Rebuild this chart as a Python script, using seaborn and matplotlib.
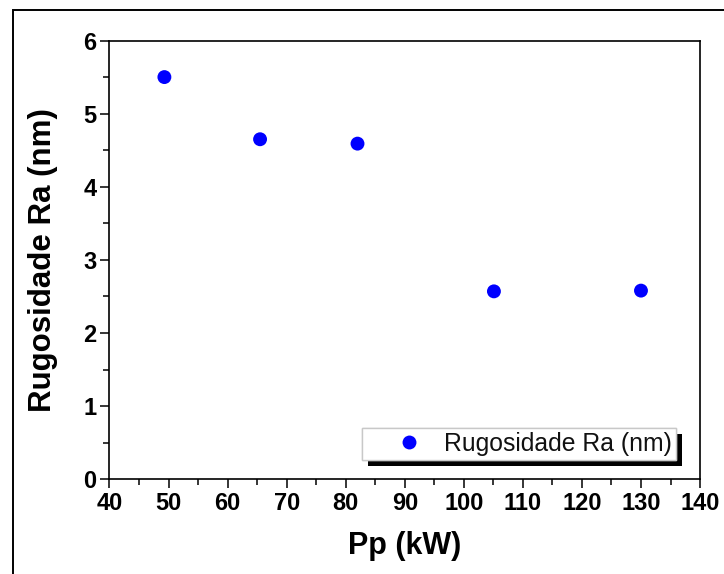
import matplotlib
matplotlib.use("Agg")
import matplotlib.pyplot as plt
import matplotlib.patheffects as pe
from matplotlib.patches import Rectangle
from matplotlib.ticker import MultipleLocator
from matplotlib import font_manager
import seaborn as sns
import pandas as pd

# Data
pp_kw = [49.3, 65.5, 82.0, 105.1, 130.0]
ra_nm = [5.50, 4.65, 4.59, 2.57, 2.58]
series_label = "Rugosidade Ra (nm)"
x_label = "Pp (kW)"
y_label = "Rugosidade Ra (nm)"

df = pd.DataFrame({"Pp": pp_kw, "Ra": ra_nm, "serie": [series_label] * len(pp_kw)})

sns.set_theme(style="white")
plt.rcParams["font.family"] = ["Liberation Sans", "DejaVu Sans"]
plt.rcParams["text.color"] = "black"
plt.rcParams["axes.labelcolor"] = "black"
plt.rcParams["xtick.color"] = "black"
plt.rcParams["ytick.color"] = "black"

names = {f.name for f in font_manager.fontManager.ttflist}
narrow = "Liberation Sans Narrow" if "Liberation Sans Narrow" in names else "Liberation Sans"

fig = plt.figure(figsize=(7.24, 5.74), dpi=100)
ax = fig.add_axes([0.1512, 0.165, 0.8157, 0.7644])

sns.scatterplot(data=df, x="Pp", y="Ra", hue="serie", palette={series_label: "#0000ff"},
                s=100, edgecolor="none", ax=ax, legend=True)

ax.set_xlim(40, 140)
ax.set_ylim(0, 6)
ax.xaxis.set_major_locator(MultipleLocator(10))
ax.xaxis.set_minor_locator(MultipleLocator(5))
ax.yaxis.set_major_locator(MultipleLocator(1))
ax.yaxis.set_minor_locator(MultipleLocator(0.5))

for sp in ax.spines.values():
    sp.set_color("black")
    sp.set_linewidth(1.2)

ax.tick_params(axis="both", which="major", direction="out", length=6.5, width=1.1,
               color="black", labelcolor="black", pad=3, top=False, right=False,
               left=True, bottom=True)
ax.tick_params(axis="both", which="minor", direction="out", length=4.3, width=1.1,
               color="black", top=False, right=False, left=True, bottom=True)
for lab in ax.get_xticklabels() + ax.get_yticklabels():
    lab.set_fontweight("bold")
    lab.set_fontfamily([narrow, "DejaVu Sans"])
    lab.set_fontsize(20 if narrow != "Liberation Sans" else 17)
    lab.set_color("black")

ax.set_xlabel(x_label, fontsize=22, fontweight="bold", labelpad=11, color="black")
ax.set_ylabel(y_label, fontsize=22.5, fontweight="bold", labelpad=18, color="black")

leg = ax.legend(loc="lower right", bbox_to_anchor=(0.959, 0.045), frameon=True,
                fancybox=False, fontsize=17.8, markerscale=1.0, handletextpad=-0.29,
                borderpad=0.15, borderaxespad=0.0, handlelength=3.46)
for t in leg.get_texts():
    t.set_color("#111111")
frame = leg.get_frame()
frame.set_edgecolor("#c8c8c8")
frame.set_linewidth(1.0)
frame.set_facecolor("white")
frame.set_alpha(1)
frame.set_path_effects([pe.withSimplePatchShadow(offset=(4.3, -4.3), shadow_rgbFace="black",
                                                alpha=1.0),
                        pe.Normal()])

# outer frame around the figure (clipped at right and bottom)
fig.patches.append(Rectangle((12.5 / 724, -0.05), 1.2, 1 - 10 / 574 + 0.05,
                             transform=fig.transFigure, fill=False,
                             edgecolor="black", linewidth=1.4, zorder=-1))

fig.savefig("out.png", dpi=100)
